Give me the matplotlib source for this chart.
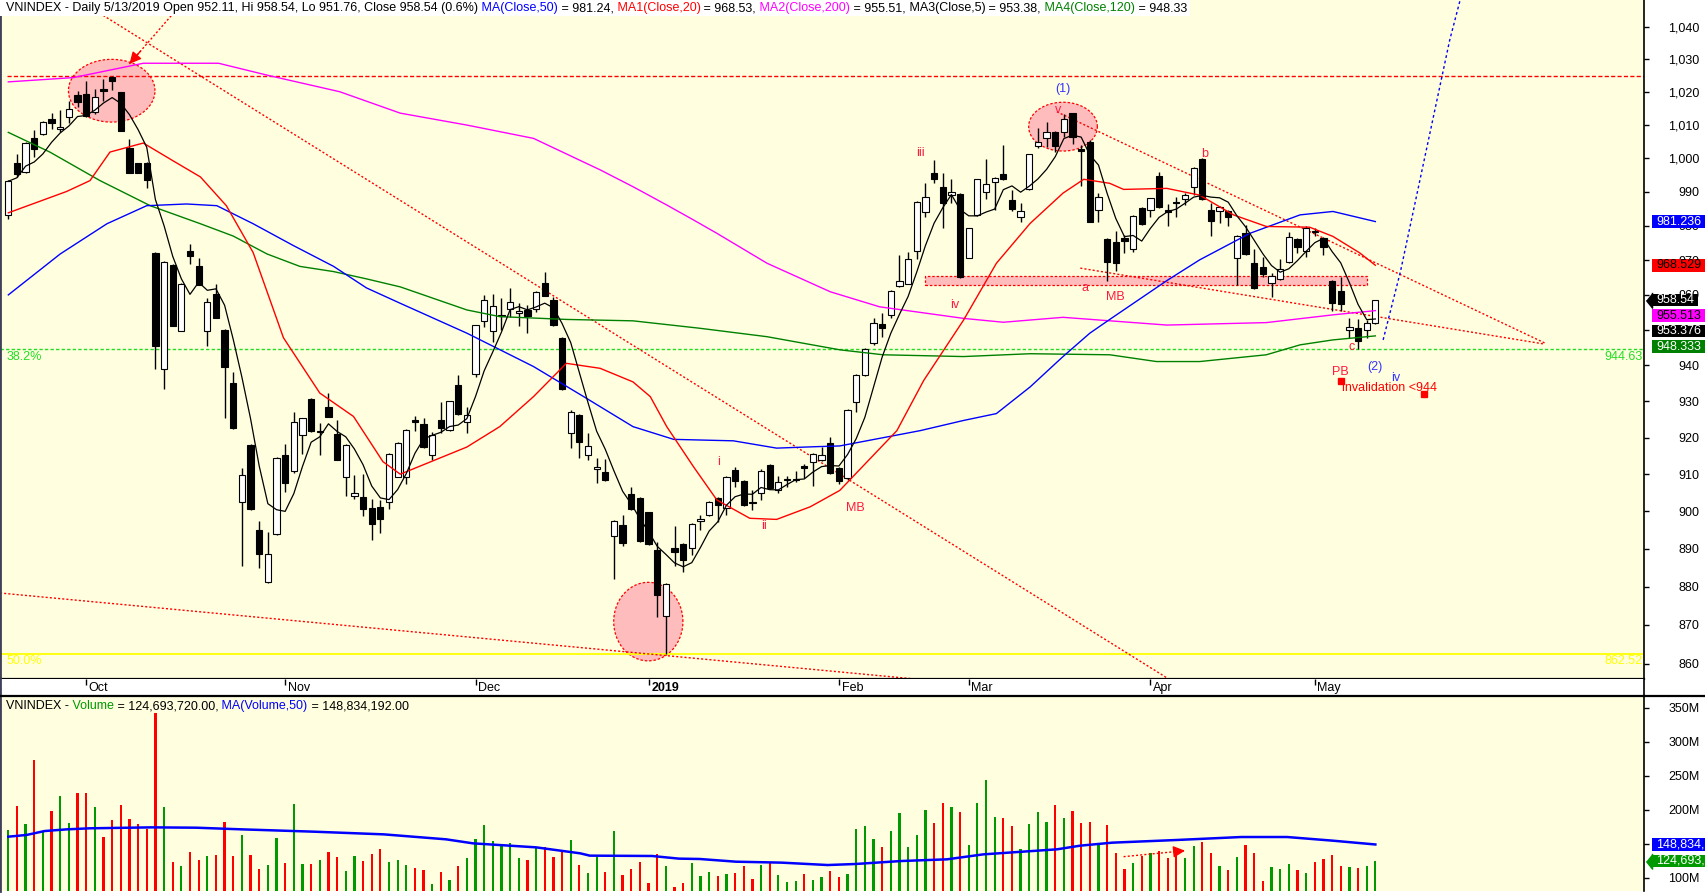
import numpy as np
import pandas as pd
import matplotlib
matplotlib.use("Agg")
import matplotlib.pyplot as plt
from matplotlib.patches import Rectangle
from matplotlib.lines import Line2D
from matplotlib.ticker import FixedLocator, FuncFormatter, NullLocator, NullFormatter
from matplotlib.transforms import blended_transform_factory

plt.rcParams['font.family'] = ['Liberation Sans', 'DejaVu Sans']

# ---- daily bars, VNINDEX (bar index 0 .. 158, last bar = 5/13/2019) ----
opens = [
    983.1, 998.6, 995.9, 1006.1, 1007.2, 1011.8, 1008.8, 1012.4, 1019.0, 1019.2,
    1013.9, 1020.9, 1024.5, 1019.8, 1003.1, 998.4, 998.6, 972.1, 938.9, 968.6,
    949.8, 972.8, 968.4, 949.6, 960.2, 950.0, 935.1, 902.5, 917.9, 895.0,
    881.1, 893.8, 915.1, 910.9, 920.6, 930.6, 921.6, 928.5, 921.1, 909.1,
    904.0, 903.7, 900.8, 901.0, 902.5, 909.3, 909.3, 924.8, 923.7, 915.3,
    924.9, 922.1, 934.6, 924.4, 937.5, 952.6, 949.8, 954.0, 956.1, 954.7,
    955.7, 955.9, 963.4, 958.5, 947.7, 921.2, 926.2, 915.1, 911.4, 910.5,
    893.4, 896.3, 904.6, 903.5, 899.7, 889.7, 872.3, 890.1, 891.2, 890.1,
    897.5, 899.0, 903.5, 900.8, 911.1, 908.2, 902.6, 904.8, 912.4, 905.6,
    908.4, 908.4, 912.2, 913.4, 913.8, 918.6, 911.7, 909.0, 929.9, 937.3,
    946.2, 951.6, 954.4, 962.6, 963.2, 972.7, 983.9, 995.6, 991.3, 989.0,
    989.4, 970.7, 983.2, 989.8, 992.8, 995.2, 987.6, 982.5, 990.7, 1003.6,
    1005.9, 1007.9, 1007.7, 1013.4, 1002.7, 1004.7, 984.5, 976.2, 975.3, 976.4,
    973.2, 985.2, 984.7, 994.7, 984.5, 987.1, 987.8, 991.3, 999.7, 984.7,
    984.4, 984.4, 970.6, 977.9, 969.1, 967.9, 963.3, 964.5, 969.4, 976.2,
    972.7, 978.4, 976.4, 964.1, 961.2, 950.0, 950.5, 950.0, 952.11]
highs = [
    993.5, 1001.3, 1004.8, 1008.4, 1011.2, 1013.6, 1014.5, 1017.1, 1020.1, 1023.2,
    1020.7, 1024.0, 1024.8, 1020.0, 1005.8, 998.6, 998.8, 972.3, 969.8, 968.8,
    963.3, 974.6, 970.5, 959.1, 963.1, 950.2, 938.3, 911.6, 918.1, 897.5,
    894.4, 914.7, 918.1, 927.0, 925.5, 930.8, 924.0, 932.3, 924.9, 918.1,
    909.9, 910.1, 903.2, 902.9, 915.8, 918.8, 922.3, 925.8, 925.4, 921.5,
    929.9, 930.1, 937.3, 928.4, 951.5, 959.9, 960.2, 959.0, 961.9, 957.6,
    957.1, 961.1, 966.5, 959.5, 947.9, 927.5, 926.4, 921.2, 914.4, 914.2,
    897.7, 899.0, 906.4, 903.7, 899.9, 891.9, 880.9, 896.0, 891.4, 896.9,
    899.0, 902.7, 903.7, 909.4, 912.0, 908.4, 905.6, 911.3, 912.9, 909.5,
    909.5, 910.9, 912.9, 915.8, 917.4, 920.1, 911.9, 928.0, 937.5, 945.0,
    953.3, 954.7, 961.3, 971.5, 972.3, 987.3, 992.5, 999.4, 995.6, 993.8,
    989.6, 979.5, 993.9, 999.7, 994.4, 1003.9, 990.5, 986.6, 1001.3, 1009.1,
    1010.7, 1008.1, 1013.1, 1013.6, 1003.9, 1005.4, 989.6, 976.4, 978.5, 977.4,
    983.1, 985.4, 988.3, 996.0, 986.5, 988.6, 989.7, 997.3, 999.9, 986.6,
    985.8, 984.6, 977.4, 980.2, 973.2, 971.0, 966.2, 970.2, 978.1, 976.4,
    979.8, 979.3, 976.8, 964.3, 965.2, 953.3, 953.0, 952.9, 958.54]
lows = [
    981.9, 994.4, 995.5, 1000.2, 1006.8, 1008.8, 1007.7, 1010.4, 1015.3, 1012.4,
    1013.1, 1017.1, 1020.4, 1008.0, 995.7, 995.5, 991.2, 938.9, 933.3, 951.0,
    949.6, 969.0, 962.9, 945.6, 953.3, 925.3, 922.4, 885.3, 900.3, 884.8,
    880.9, 893.6, 905.3, 910.3, 915.4, 921.5, 915.1, 925.6, 913.9, 904.0,
    903.4, 898.8, 892.4, 894.1, 900.5, 909.1, 907.4, 921.9, 917.2, 913.9,
    921.2, 921.9, 926.3, 921.2, 936.8, 950.8, 946.7, 950.0, 953.7, 951.2,
    949.2, 955.2, 959.6, 951.0, 933.1, 917.2, 914.5, 913.9, 907.7, 908.2,
    882.1, 890.8, 900.3, 891.9, 891.0, 872.1, 862.52, 885.4, 883.7, 888.3,
    895.0, 898.8, 897.2, 899.0, 906.4, 901.4, 900.3, 902.9, 906.0, 904.8,
    906.4, 908.0, 908.9, 906.8, 913.6, 910.0, 907.3, 908.5, 927.1, 937.0,
    945.7, 948.1, 953.3, 962.4, 963.0, 970.2, 982.7, 992.6, 979.3, 986.6,
    964.9, 970.5, 983.0, 987.8, 984.7, 993.5, 984.2, 981.2, 990.5, 1002.9,
    1003.4, 1001.9, 1006.4, 1004.1, 991.7, 981.0, 981.2, 964.1, 966.8, 972.2,
    972.5, 980.2, 982.7, 985.2, 980.0, 982.7, 986.1, 989.0, 987.7, 976.9,
    980.9, 980.0, 962.8, 971.6, 961.7, 965.2, 959.3, 964.3, 969.2, 972.1,
    970.9, 976.9, 971.6, 955.4, 955.4, 947.6, 944.63, 947.6, 951.76]
closes = [
    993.1, 995.2, 1004.5, 1002.6, 1010.9, 1010.4, 1009.3, 1014.9, 1016.9, 1012.6,
    1018.3, 1020.1, 1023.2, 1008.0, 995.7, 995.7, 993.6, 945.6, 969.6, 951.2,
    963.1, 971.3, 962.9, 958.1, 953.3, 939.6, 922.6, 909.9, 900.5, 888.5,
    888.6, 914.5, 907.7, 924.4, 925.3, 921.7, 921.9, 925.6, 913.9, 917.9,
    905.0, 900.5, 896.7, 897.8, 915.6, 918.6, 922.1, 924.4, 917.4, 920.6,
    922.7, 930.0, 926.5, 926.2, 951.3, 958.5, 956.7, 954.4, 958.1, 955.5,
    953.9, 960.9, 959.8, 951.4, 933.3, 926.9, 918.9, 917.7, 911.9, 908.4,
    897.5, 891.4, 900.5, 892.1, 891.2, 877.9, 880.7, 889.2, 887.0, 896.7,
    898.0, 902.5, 901.6, 909.2, 908.2, 901.6, 902.2, 910.8, 906.2, 907.9,
    908.8, 908.8, 911.8, 915.6, 915.3, 910.2, 908.2, 927.5, 937.3, 944.7,
    951.9, 950.5, 961.1, 964.1, 970.2, 987.1, 988.6, 993.8, 986.6, 989.8,
    965.1, 979.3, 993.7, 992.2, 994.2, 993.7, 984.9, 984.4, 1001.1, 1004.9,
    1007.9, 1003.7, 1011.6, 1006.2, 1002.0, 981.2, 988.6, 969.6, 969.3, 975.5,
    982.9, 980.4, 988.1, 985.4, 984.0, 986.6, 989.0, 997.1, 987.9, 981.5,
    985.6, 982.5, 977.1, 971.8, 961.9, 965.9, 965.5, 967.5, 976.8, 973.7,
    979.3, 978.1, 973.8, 957.6, 957.3, 950.8, 946.9, 952.1, 958.54]
# volume in millions of shares
volumes = [
    170.1, 205.4, 178.9, 273.1, 168.6, 198.1, 220.1, 180.4, 224.5, 224.5,
    203.9, 159.8, 184.8, 206.9, 186.3, 178.9, 171.6, 341.7, 203.9, 123.1,
    117.2, 137.8, 126.0, 131.9, 133.4, 181.9, 131.9, 162.8, 133.4, 112.8,
    118.6, 158.4, 121.6, 208.4, 120.1, 120.1, 126.0, 137.8, 130.4, 109.8,
    131.9, 124.5, 134.8, 142.2, 123.1, 126.0, 118.6, 114.2, 111.3, 90.7,
    108.3, 96.6, 117.2, 128.9, 156.9, 177.5, 153.9, 146.6, 151.0, 128.9,
    126.0, 143.6, 145.1, 130.4, 140.7, 155.4, 118.6, 106.9, 130.4, 108.3,
    168.6, 103.9, 112.8, 123.1, 92.2, 134.8, 117.2, 86.3, 92.2, 121.6,
    102.5, 107.9, 102.5, 105.4, 106.9, 117.2, 98.1, 118.6, 121.6, 103.9,
    93.6, 95.1, 105.4, 96.6, 101.0, 109.8, 101.0, 105.4, 171.6, 176.0,
    156.9, 145.1, 168.6, 195.1, 145.1, 162.8, 199.5, 180.4, 209.8, 203.9,
    196.6, 148.1, 209.8, 243.6, 189.2, 187.8, 176.0, 142.2, 178.9, 196.6,
    181.9, 206.9, 187.8, 198.1, 180.4, 181.9, 151.0, 177.5, 136.3, 112.8,
    121.6, 132.4, 136.3, 139.2, 128.9, 140.7, 128.9, 146.6, 152.5, 136.3,
    117.2, 111.3, 130.4, 148.1, 136.3, 95.1, 115.7, 112.8, 120.1, 111.3,
    106.9, 123.1, 127.5, 133.4, 117.2, 115.7, 114.2, 117.2, 124.69]

# moving averages (bar index, value)
ma20_x = [0, 6.75, 9.44, 11.75, 15.6, 19.1, 22.2, 25.2, 28.3, 31.8, 36.0, 39.9, 43.3, 45.3,
          53.0, 56.8, 60.7, 64.5, 68.4, 72.2, 74.2, 76.1, 79.2, 81.9, 85.7, 88.8, 92.7, 96.1,
          102.7, 105.8, 110.4, 114.2, 118.1, 121.9, 124.3, 127.3, 128.9, 133.9, 137.7, 141.6,
          145.4, 150.4, 153.1, 156.2, 158]
ma20_y = [983.8, 990.1, 993.3, 1001.8, 1004.5, 999.1, 994.4, 985.9, 972.2, 947.8, 932.3, 925.8, 913.4, 910.0,
          917.4, 923.0, 931.3, 940.6, 939.2, 935.4, 931.3, 923.0, 912.0, 903.0, 898.1, 897.8, 901.2, 905.6,
          921.9, 935.8, 952.8, 969.1, 980.7, 989.6, 993.7, 992.5, 990.7, 991.0, 989.0, 983.2,
          979.8, 979.6, 976.9, 972.1, 968.53]
ma50_x = [0, 6.0, 11.4, 16.0, 20.6, 24.1, 28.3, 32.9, 37.6, 41.4, 45.3, 53.0, 60.7, 66.5, 72.2,
          76.9, 83.8, 88.8, 93.4, 96.1, 105.4, 110.4, 114.2, 118.1, 121.9, 125.0, 127.3, 133.9,
          137.7, 143.5, 149.3, 153.1, 158]
ma50_y = [960.0, 971.8, 980.6, 985.9, 986.4, 985.9, 980.6, 974.3, 968.2, 962.0, 957.6, 949.1, 939.7, 931.3, 923.0,
          919.5, 919.1, 917.1, 917.5, 917.7, 921.9, 924.7, 926.6, 934.0, 942.5, 949.1, 953.0, 964.1,
          970.1, 977.8, 983.2, 984.2, 981.24]
ma120_x = [0, 4.8, 10.6, 16.4, 22.2, 26.0, 29.9, 33.7, 37.6, 41.4, 45.3, 53.0, 56.8, 64.5, 72.2,
           79.9, 87.7, 96.1, 101.1, 110.4, 118.1, 127.3, 132.7, 137.7, 145.4, 149.3, 153.1, 158]
ma120_y = [1007.7, 1001.8, 993.3, 985.9, 980.6, 977.0, 971.8, 968.2, 966.7, 964.6, 962.3, 955.7, 953.8, 953.0, 952.6,
           950.5, 948.1, 944.4, 943.0, 942.5, 943.3, 943.0, 941.1, 941.1, 943.0, 945.8, 947.2, 948.33]
ma200_x = [0, 7.5, 15.6, 24.3, 30.0, 38.3, 45.3, 53.0, 60.7, 68.4, 72.2, 76.1, 79.2, 81.9, 87.7,
           95.0, 100.7, 110.4, 115.0, 121.9, 133.9, 145.4, 153.1, 158]
ma200_y = [1023.0, 1024.3, 1028.7, 1028.7, 1025.0, 1020.0, 1013.5, 1009.9, 1005.9, 996.5, 991.5, 986.1, 981.7, 977.8, 969.1,
           960.9, 956.6, 953.3, 952.2, 953.6, 951.4, 952.1, 954.3, 955.51]
vma_x = [0, 2.1, 4.2, 6.8, 9.4, 16.6, 21.7, 26.9, 35.2, 43.4, 50.6, 53.7, 61.0, 66.1, 67.2, 74.4, 77.5,
         79.9, 84.1, 89.4, 94.7, 97.9, 103.2, 108.5, 112.7, 121.2, 123.9, 127.6, 135.0, 142.5, 147.8,
         153.1, 158]
vma_y = [160.3, 162.8, 168.6, 171.1, 172.6, 174.0, 173.5, 171.1, 167.7, 163.7, 156.4, 150.5, 144.6, 135.8, 132.4, 131.9, 128.0,
         127.5, 123.5, 122.1, 118.6, 120.1, 124.5, 127.0, 134.3, 141.7, 147.1, 151.5, 155.4, 159.8, 159.8,
         154.4, 148.83]

# month starts (bar index) for the date strip
month_idx = [9, 32, 54, 74, 96, 111, 132, 151]
month_lbl = ['Oct', 'Nov', 'Dec', '2019', 'Feb', 'Mar', 'Apr', 'May']

# drawn studies: trend lines (x0, y0, x1, y1)
trend_lines = [(8.11, 1048.3, 134.3, 855.8),
               (-0.96, 878.3, 104.8, 856.05),
               (121.2, 1013.9, 177.6, 946.3),
               (123.9, 967.7, 177.6, 946.0)]
resistance = 1024.7
fib_levels = [(944.63, '38.2%'), (862.52, '50.0%')]
proj_x = [158.9, 160.9, 166.6, 167.8]
proj_y = [947.2, 966.7, 1035.9, 1048.3]
arrow_from, arrow_to = (20.4, 1048.3), (14.0, 1028.5)
ellipses = [(11.95, 1010.8, 1029.9, 5.0), (73.97, 860.7, 881.1, 4.0), (121.9, 1002.1, 1016.8, 3.97)]
zone = (105.95, 157.0, 962.8, 965.4)
wave_labels = [('(1)', 121.9, 1020.7, 'b'), ('v', 121.3, 1014.5, 'r'), ('iii', 105.4, 1001.6, 'r'),
               ('iv', 109.4, 957.1, 'r'), ('a', 124.4, 961.9, 'r'), ('MB', 127.9, 959.3, 'r'),
               ('b', 138.3, 1001.2, 'r'), ('c', 155.3, 945.3, 'r'), ('PB', 153.9, 938.3, 'r'),
               ('(2)', 158.0, 939.5, 'b'), ('iv', 160.4, 936.6, 'b'), ('i', 82.1, 913.4, 'r'),
               ('ii', 87.3, 896.0, 'r'), ('MB', 97.9, 900.9, 'r')]
marks_x = [154.0, 163.6]
marks_y = [935.7, 932.0]
vol_arrow = ((128.9, 130.9), (136.0, 139.7))

BG = '#ffffe0'
RED = '#ff0000'
BLUE = '#0000ff'
MAGENTA = '#ff00ff'
GREEN = '#008000'
LIME = '#22dd22'
PINK = '#ffbcbc'
VGREEN = '#009900'
WAVE = {'r': '#ff1a40', 'b': '#3333ff'}

W, H = 1706, 896
fig = plt.figure(figsize=(W / 100, H / 100), dpi=100, facecolor='white')
XR = 1644 / W
ax = fig.add_axes([0, 1 - 679 / H, XR, 679 / H])
axd = fig.add_axes([0, 1 - 696 / H, XR, 17 / H])
axv = fig.add_axes([0, 1 - 891 / H, XR, 195 / H])
XLIM = (-0.96, 189.05)

# ---------------- price pane ----------------
ax.set_facecolor(BG)
ax.set_yscale('log')
ax.set_xlim(*XLIM)
ax.set_ylim(856.05, 1048.3)

idx = np.arange(len(closes))
o = np.array(opens)
c = np.array(closes)
up = c >= o

# zones and circles
t = np.linspace(0, 2 * np.pi, 120)
for cx, ylo, yhi, hw in ellipses:
    lc = (np.log(ylo) + np.log(yhi)) / 2
    lr = (np.log(yhi) - np.log(ylo)) / 2
    ex = cx + hw * np.cos(t)
    ey = np.exp(lc + lr * np.sin(t))
    ax.fill(ex, ey, color=PINK, zorder=1, lw=0)
    ax.plot(ex, ey, color=RED, lw=0.9, ls=(0, (2, 1.5)), zorder=1.2)
ax.add_patch(Rectangle((zone[0], zone[2]), zone[1] - zone[0], zone[3] - zone[2],
                       fc=PINK, ec=RED, lw=0.9, ls=(0, (2, 1.5)), zorder=1.2))

# fib levels
fib_col = [LIME, '#ffff00']
bt = blended_transform_factory(ax.transAxes, ax.transData)
for (lvl, pct), col in zip(fib_levels, fib_col):
    if col == LIME:
        ax.axhline(lvl, color=col, lw=1, ls=(0, (2.4, 1.6)), zorder=1.5)
    else:
        ax.axhline(lvl, color=col, lw=1.3, zorder=1.5)
    ax.annotate(pct, xy=(7 / 1644, lvl), xycoords=bt, xytext=(0, -1.2), textcoords='offset points',
                ha='left', va='top', color=col, fontsize=9)
    ax.annotate(f'{lvl:.2f}', xy=(1643 / 1644, lvl), xycoords=bt, xytext=(0, -1.2),
                textcoords='offset points', ha='right', va='top', color=col, fontsize=9)

# trend lines
ax.hlines(resistance, -0.1, XLIM[1], color=RED, lw=1, ls=(0, (3, 1.6)), zorder=2)
for x0, y0, x1, y1 in trend_lines:
    ax.plot([x0, x1], [y0, y1], color=RED, lw=1, ls=(0, (1.5, 1.5)), zorder=2)
ax.plot(proj_x, proj_y, color=BLUE, lw=1, ls=(0, (2, 2)), zorder=2)
ax.plot([arrow_from[0], arrow_to[0]], [arrow_from[1], arrow_to[1]], color=RED, lw=1,
        ls=(0, (1.5, 1.5)), zorder=2)
near = (arrow_to[0] + 0.2 * (arrow_from[0] - arrow_to[0]),
        np.exp(np.log(arrow_to[1]) + 0.2 * (np.log(arrow_from[1]) - np.log(arrow_to[1]))))
ax.annotate('', xy=arrow_to, xytext=near,
            arrowprops=dict(arrowstyle='-|>,head_length=0.7,head_width=0.35', color=RED, lw=1,
                            shrinkA=0, shrinkB=0), zorder=6)

# candles
ax.vlines(idx, lows, highs, color='black', lw=1, zorder=3)
ax.bar(idx, np.maximum(np.abs(c - o), 0.3), bottom=np.minimum(o, c), width=0.72,
       color=np.where(up, 'white', 'black'), edgecolor='black', linewidth=0.8, zorder=4)

# moving averages
ma5 = pd.Series(closes).rolling(5, min_periods=1).mean()
ax.plot(ma200_x, ma200_y, color=MAGENTA, lw=1, zorder=5)
ax.plot(ma120_x, ma120_y, color=GREEN, lw=1, zorder=5)
ax.plot(ma50_x, ma50_y, color=BLUE, lw=1, zorder=5)
ax.plot(ma20_x, ma20_y, color=RED, lw=1, zorder=5)
ax.plot(idx, ma5, color='black', lw=0.9, zorder=5)

# wave labels and notes
for txt, x, y, col in wave_labels:
    ax.text(x, y, txt, color=WAVE[col], fontsize=9, ha='center', va='center', zorder=7)
ax.plot(marks_x, marks_y, ls='none', marker='s', ms=4.5, color=RED, zorder=7)
ax.text(154.2, 933.7, 'invalidation <944', color=RED, fontsize=9, ha='left', va='center', zorder=7)

# title line: coloured pieces chained one after another, white band behind
title_parts = [('VNINDEX - Daily 5/13/2019 Open 952.11, Hi 958.54, Lo 951.76, Close 958.54 (0.6%)', 'black'),
               (' MA(Close,50)', BLUE), (' = 981.24,', 'black'), (' MA1(Close,20)', RED),
               (' = 968.53,', 'black'), (' MA2(Close,200)', MAGENTA), (' = 955.51,', 'black'),
               (' MA3(Close,5)', 'black'), (' = 953.38,', 'black'), (' MA4(Close,120)', GREEN),
               (' = 948.33', 'black')]
prev = ax.text(6 / 1644, 1 - 8.5 / 679, title_parts[0][0], transform=ax.transAxes,
               color=title_parts[0][1], fontsize=9, ha='left', va='center', zorder=8)
for s, col in title_parts[1:]:
    prev = ax.annotate(s, xy=(1, 0), xycoords=prev, ha='left', va='bottom', color=col, fontsize=9,
                       zorder=8)
fig.canvas.draw()
title_end = ax.transAxes.inverted().transform(
    (prev.get_window_extent(fig.canvas.get_renderer()).x1 + 3, 0))[0]
ax.add_patch(Rectangle((0, 1 - 16 / 679), title_end, 16 / 679, transform=ax.transAxes,
                       fc='white', ec='none', zorder=7.5))

# right axis
ax.yaxis.tick_right()
ax.yaxis.set_major_locator(FixedLocator(list(range(860, 1041, 10))))
ax.yaxis.set_major_formatter(FuncFormatter(lambda v, p: f'{v:,.0f}'))
ax.yaxis.set_minor_locator(NullLocator())
ax.yaxis.set_minor_formatter(NullFormatter())
ax.tick_params(axis='y', direction='out', length=3.6, width=1, pad=36.5, labelsize=9)
for lab in ax.get_yticklabels():
    lab.set_horizontalalignment('right')
ax.set_xticks([])
ax.spines['top'].set_visible(False)
ax.spines['left'].set_color('#40405a')
ax.spines['left'].set_linewidth(2)
ax.spines['bottom'].set_linewidth(1.6)
ax.spines['right'].set_linewidth(1.2)


def value_boxes(axis, items, fmt, gap=15.5):
    tr = axis.transData
    placed = []
    for v, *_ in items:
        y = tr.transform((0, v))[1]
        if placed and placed[-1] - y < gap:
            y = placed[-1] - gap
        placed.append(y)
    btr = blended_transform_factory(axis.transAxes, axis.transData)
    for (v, fc, tc, arrow), yp in zip(items, placed):
        yd = tr.inverted().transform((0, yp))[1]
        axis.text(1656 / 1644, yd, fmt(v), transform=btr, ha='left', va='center', color=tc,
                  fontsize=9, clip_on=False, zorder=10,
                  bbox=dict(boxstyle='square,pad=0.35', mutation_aspect=0.08, fc=fc, ec='none'))
        if arrow:
            axis.plot([1649 / 1644], [yd], transform=btr, marker=[(-0.4, 0), (0.4, -1), (0.4, 1)],
                      ms=11, color=fc, clip_on=False, zorder=10, ls='none')


value_boxes(ax, [(981.236, BLUE, 'white', False), (968.529, RED, 'black', False),
                 (958.54, 'black', 'white', True), (955.513, MAGENTA, 'black', False),
                 (953.376, 'black', 'white', False), (948.333, GREEN, 'white', False)],
            lambda v: f'{v:g}')

# ---------------- date strip ----------------
axd.set_facecolor('white')
axd.set_xlim(*XLIM)
axd.set_ylim(0, 1)
axd.set_xticks([])
axd.set_yticks([])
for sp in ['top', 'bottom']:
    axd.spines[sp].set_visible(False)
axd.spines['left'].set_color('#40405a')
axd.spines['left'].set_linewidth(2)
axd.spines['right'].set_linewidth(1.2)
axd.vlines(month_idx, 0.62, 1.0, color='black', lw=1)
for m, lbl in zip(month_idx, month_lbl):
    axd.text(m + 0.3, 0.45, lbl, fontsize=9, ha='left', va='center',
             fontweight='bold' if lbl == '2019' else 'normal')

# ---------------- volume pane ----------------
vol = np.array(volumes) * 1e6
axv.set_facecolor(BG)
axv.set_xlim(*XLIM)
axv.set_ylim(80.4e6, 367.2e6)
axv.bar(idx, vol, width=0.26, color=np.where(up, VGREEN, RED), zorder=2)
axv.plot(vma_x, np.array(vma_y) * 1e6, color=BLUE, lw=1.8, zorder=3)
(vx0, vy0), (vx1, vy1) = vol_arrow
axv.plot([vx0, vx1], [vy0 * 1e6, vy1 * 1e6], color=RED, lw=1, ls=(0, (1.5, 1.5)), zorder=4)
axv.annotate('', xy=(vx1, vy1 * 1e6), xytext=(vx1 - 1.3, (vy0 + 0.82 * (vy1 - vy0)) * 1e6),
             arrowprops=dict(arrowstyle='-|>,head_length=0.7,head_width=0.35', color=RED, lw=1,
                             shrinkA=0, shrinkB=0), zorder=5)

vol_parts = [('VNINDEX -', 'black'), (' Volume', VGREEN), (' = 124,693,720.00,', 'black'),
             (' MA(Volume,50)', BLUE), (' = 148,834,192.00', 'black')]
prev = axv.text(6 / 1644, 1 - 10 / 195, vol_parts[0][0], transform=axv.transAxes, color='black',
                fontsize=9, ha='left', va='center', zorder=8)
for s, col in vol_parts[1:]:
    prev = axv.annotate(s, xy=(1, 0), xycoords=prev, ha='left', va='bottom', color=col, fontsize=9,
                        zorder=8)

axv.yaxis.tick_right()
axv.yaxis.set_major_locator(FixedLocator([100e6, 150e6, 200e6, 250e6, 300e6, 350e6]))
axv.yaxis.set_major_formatter(FuncFormatter(lambda v, p: f'{v / 1e6:.0f}M'))
axv.tick_params(axis='y', direction='out', length=3.6, width=1, pad=36.5, labelsize=9)
for lab in axv.get_yticklabels():
    lab.set_horizontalalignment('right')
axv.set_xticks([])
axv.spines['bottom'].set_visible(False)
axv.spines['top'].set_linewidth(1.6)
axv.spines['left'].set_color('#40405a')
axv.spines['left'].set_linewidth(2)
axv.spines['right'].set_linewidth(1.2)

value_boxes(axv, [(148834192, BLUE, 'white', False), (124693720, VGREEN, 'white', True)],
            lambda v: f'{v:,.0f}')

fig.add_artist(Line2D([XR, 1], [1 - 696 / H] * 2, color='black', lw=1.6, transform=fig.transFigure))

fig.savefig('out.png', dpi=100, facecolor='white')
